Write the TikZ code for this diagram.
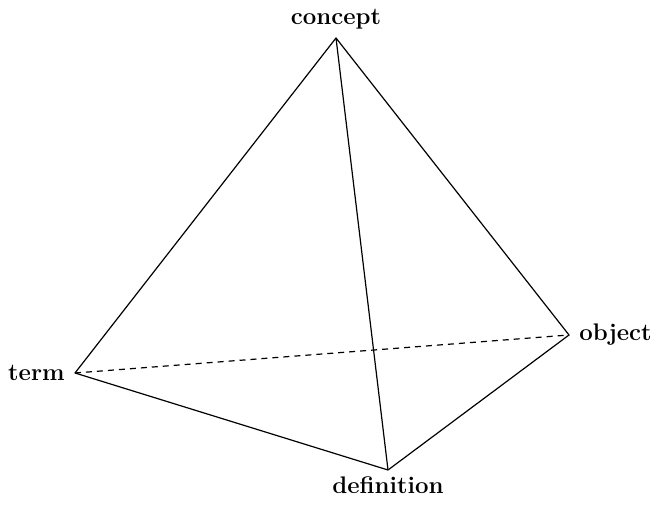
\documentclass[tikz,border=0pt]{standalone}
\usepackage{tikz}
\usetikzlibrary{positioning}
\tikzset{
  vlabel/.style={font=\large\bfseries, inner sep=2pt},
  edge/.style={line width=0.6pt, line join=round}
}
\begin{document}
\begin{tikzpicture}[x=0.5pt, y=-0.5pt]
    \useasboundingbox (0,0) rectangle (652,506);
    % corners of the tetrahedron
    \coordinate (concept) at (336,38);
    \coordinate (term) at (75,373);
    \coordinate (object) at (569,335);
    \coordinate (definition) at (388,470);
    % labels
    \node[vlabel, above=2pt of concept] (conceptlbl) {concept};
    \node[vlabel, left=3pt of term] (termlbl) {term};
    \node[vlabel, right=3pt of object] (objectlbl) {object};
    \node[vlabel, below=1pt of definition] (definitionlbl) {definition};
    % edges
    \draw[edge] (concept) -- (term) -- (definition) -- (object) -- cycle;
    \draw[edge] (concept) -- (definition);
    \draw[edge, dash pattern=on 3pt off 2.5pt] (term) -- (object);
\end{tikzpicture}
\end{document}
